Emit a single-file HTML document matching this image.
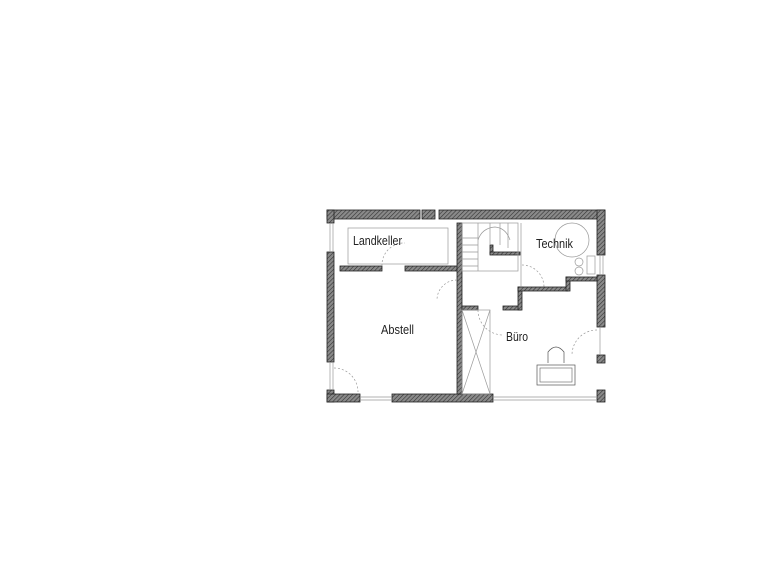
<!DOCTYPE html>
<html><head><meta charset="utf-8"><style>
html,body{margin:0;padding:0;background:#fff;width:758px;height:564px;overflow:hidden}
svg{display:block}
text{font-family:"Liberation Sans",sans-serif;font-size:13px;fill:#222}
</style></head><body>
<svg width="758" height="564" viewBox="0 0 758 564" xmlns="http://www.w3.org/2000/svg">
<defs>
<pattern id="h" width="3" height="3" patternUnits="userSpaceOnUse" patternTransform="rotate(45)">
<rect width="3" height="3" fill="#8a8a8a"/><line x1="0" y1="0" x2="0" y2="3" stroke="#333" stroke-width="1.2"/>
</pattern>
</defs>
<g fill="url(#h)" stroke="#222" stroke-width="0.8">
<rect x="327" y="210" width="93" height="9"/>
<rect x="422" y="210" width="13" height="9"/>
<rect x="439" y="210" width="166" height="9"/>
<rect x="327" y="210" width="7" height="13"/>
<rect x="327" y="252" width="7" height="110"/>
<rect x="327" y="390" width="7" height="12"/>
<rect x="597" y="210" width="8" height="45"/>
<rect x="597" y="275" width="8" height="52"/>
<rect x="597" y="355" width="8" height="8"/>
<rect x="597" y="390" width="8" height="12"/>
<rect x="327" y="394" width="33" height="8"/>
<rect x="392" y="394" width="101" height="8"/>
<rect x="340" y="266" width="42" height="5"/>
<rect x="405" y="266" width="53" height="5"/>
<rect x="457" y="223" width="5" height="171"/>
<rect x="462" y="306" width="16" height="4"/>
<rect x="503" y="306" width="18" height="4"/>
<rect x="518" y="287" width="4" height="23"/>
<rect x="518" y="287" width="50" height="4"/>
<rect x="566" y="277" width="4" height="14"/>
<rect x="566" y="277" width="31" height="4"/>
<rect x="490" y="245" width="3" height="9"/>
<rect x="490" y="252" width="30" height="3"/>
</g>
<g fill="none" stroke="#999" stroke-width="0.7">
<line x1="330" y1="223" x2="330" y2="252"/><line x1="333" y1="223" x2="333" y2="252"/>
<line x1="330" y1="362" x2="330" y2="390"/><line x1="333" y1="362" x2="333" y2="390"/>
<line x1="360" y1="397" x2="392" y2="397"/><line x1="360" y1="400" x2="392" y2="400"/>
<line x1="493" y1="397" x2="597" y2="397"/><line x1="493" y1="400" x2="597" y2="400"/>
<line x1="600" y1="255" x2="600" y2="275"/><line x1="603" y1="255" x2="603" y2="275"/>
<line x1="600" y1="327" x2="600" y2="355"/>
<rect x="348" y="228" width="100" height="36"/>
<rect x="462" y="223" width="56" height="48"/>
<path d="M462 238 H478 M462 245 H478 M462 252 H478 M462 259 H478 M462 266 H478 M478 223 V271 M490 223 V245 M500 223 V245 M508 223 V248"/>
<path d="M478 240 Q482 228 495 227 Q506 228 510 240"/>
<circle cx="572" cy="240" r="17"/>
<circle cx="579" cy="262" r="4"/><circle cx="579" cy="271" r="4"/>
<rect x="587" y="256" width="8" height="18"/>
<line x1="521" y1="223" x2="521" y2="287"/>
<path d="M382 266 A22 22 0 0 1 405 243" stroke-dasharray="2,2"/>
<path d="M457 280 A20 20 0 0 0 437 300" stroke-dasharray="2,2"/>
<path d="M478 310 A25 25 0 0 0 503 335" stroke-dasharray="2,2"/>
<path d="M334 368 A24 24 0 0 1 358 392" stroke-dasharray="2,2"/>
<path d="M597 330 A25 25 0 0 0 572 355" stroke-dasharray="2,2"/>
<path d="M522 265 A22 22 0 0 1 544 287" stroke-dasharray="2,2"/>
<rect x="462" y="310" width="28" height="84"/>
<path d="M462 310 L490 394 M490 310 L462 394"/>
<rect x="537" y="365" width="38" height="20" stroke="#555"/>
<rect x="540" y="368" width="32" height="14" stroke="#777"/>
<path d="M548 363 V352 Q556 342 564 352 V363" stroke="#555"/>
</g>
<text x="353" y="245" textLength="49" lengthAdjust="spacingAndGlyphs">Landkeller</text>
<text x="536" y="248" textLength="37" lengthAdjust="spacingAndGlyphs">Technik</text>
<text x="381" y="334" textLength="33" lengthAdjust="spacingAndGlyphs">Abstell</text>
<text x="506" y="341" textLength="22" lengthAdjust="spacingAndGlyphs">Büro</text>
</svg>
</body></html>
